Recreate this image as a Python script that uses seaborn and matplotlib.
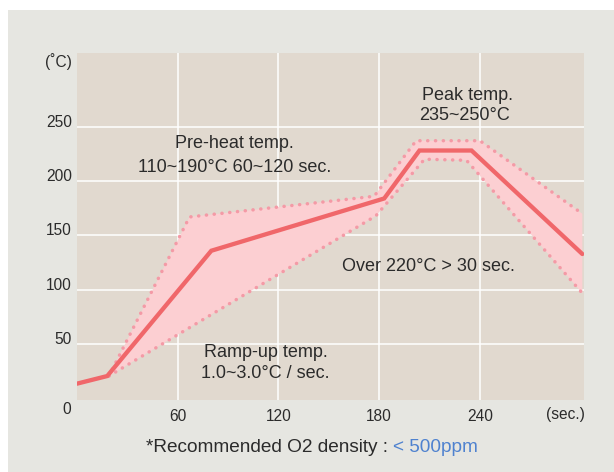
import matplotlib
matplotlib.use("Agg")
import matplotlib.pyplot as plt
import seaborn as sns
import pandas as pd
from matplotlib.patches import Rectangle

# ---- data ----
profile_time = [0, 18, 80, 183, 204, 235, 301]
profile_temp = [14, 21, 136, 184, 228, 228, 133]

upper_time = [19, 67, 177, 202, 240, 301]
upper_temp = [21, 167, 186, 237, 237, 170]

lower_time = [19, 178, 207, 232, 301]
lower_temp = [21, 168, 220, 219, 97]

x_ticks = [60, 120, 180, 240]
y_ticks = [50, 100, 150, 200, 250]

sns.set_theme(style="white")
plt.rcParams['font.family'] = ['Liberation Sans', 'DejaVu Sans']

TXT = "#2b2b2b"
BG = "#e6e6e1"
PLOT_BG = "#e1d9cf"
LINE = "#f0676a"
FILL = "#fccfd2"
EDGE = "#f49aa6"

fig = plt.figure(figsize=(6.14, 4.72), dpi=100)
fig.patch.set_facecolor("white")
fig.patches.append(Rectangle((8 / 614, 0), 1, 1 - 10 / 472, transform=fig.transFigure,
                             facecolor=BG, edgecolor="none", zorder=-10))

ax = fig.add_axes([77 / 614, 1 - 400 / 472, (584 - 77) / 614, (400 - 53) / 472])
ax.set_facecolor(PLOT_BG)
for s in ax.spines.values():
    s.set_visible(False)

ax.set_xlim(0, 302)
ax.set_ylim(-1, 317.5)
ax.set_xticks(x_ticks)
ax.set_yticks(y_ticks)
ax.grid(True, color="white", linewidth=1.1, zorder=0)
ax.set_axisbelow(True)
ax.tick_params(axis="both", length=0, labelsize=11.2, colors=TXT)
ax.tick_params(axis="x", pad=6.5)
ax.tick_params(axis="y", pad=3.8)
for lab in ax.get_yticklabels():
    lab.set_va("baseline")

# band
poly_x = upper_time + lower_time[::-1]
poly_y = upper_temp + lower_temp[::-1]
ax.fill(poly_x, poly_y, color=FILL, zorder=2, linewidth=0)

up_df = pd.DataFrame({"t": upper_time, "T": upper_temp})
lo_df = pd.DataFrame({"t": lower_time, "T": lower_temp})
pr_df = pd.DataFrame({"t": profile_time, "T": profile_temp})

for df in (up_df, lo_df):
    sns.lineplot(data=df, x="t", y="T", ax=ax, sort=False, estimator=None,
                 color=EDGE, linewidth=2.5, linestyle=(0, (0.05, 2.2)),
                 dash_capstyle="round", zorder=3)
sns.lineplot(data=pr_df, x="t", y="T", ax=ax, sort=False, estimator=None,
             color=LINE, linewidth=3.1, zorder=4, solid_joinstyle="miter")

ax.set_xlabel("")
ax.set_ylabel("")

fs = 13
ax.text(93.8, 234.2, "Pre-heat temp.", ha="center", va="center", fontsize=fs, color=TXT, zorder=5)
ax.text(93.8, 212.5, "110~190°C 60~120 sec.", ha="center", va="center", fontsize=fs, color=TXT, zorder=5)
ax.text(232.8, 278.8, "Peak temp.", ha="center", va="center", fontsize=fs, color=TXT, zorder=5)
ax.text(231.0, 259.8, "235~250°C", ha="center", va="center", fontsize=fs, color=TXT, zorder=5)
ax.text(209.4, 121.7, "Over 220°C > 30 sec.", ha="center", va="center", fontsize=fs, color=TXT, zorder=5)
ax.text(112.3, 43.0, "Ramp-up temp.", ha="center", va="center", fontsize=fs, color=TXT, zorder=5)
ax.text(112.3, 22.9, "1.0~3.0°C / sec.", ha="center", va="center", fontsize=fs, color=TXT, zorder=5)

# extra axis texts (figure pixel positions)
def fx(px):
    return px / 614
def fy(py):
    return 1 - py / 472

fig.text(fx(72), fy(62), "(˚C)", ha="right", va="center", fontsize=11.2, color=TXT)
fig.text(fx(67), fy(410), "0", ha="center", va="center", fontsize=11.2, color=TXT)
fig.text(fx(565), fy(414), "(sec.)", ha="center", va="center", fontsize=11.2, color=TXT)
fig.text(fx(388), fy(448), "*Recommended O2 density :", ha="right", va="center", fontsize=13.7, color=TXT)
fig.text(fx(393), fy(448), "< 500ppm", ha="left", va="center", fontsize=13.7, color="#4f82cf")

fig.savefig("out.png", dpi=100, facecolor=fig.get_facecolor())
